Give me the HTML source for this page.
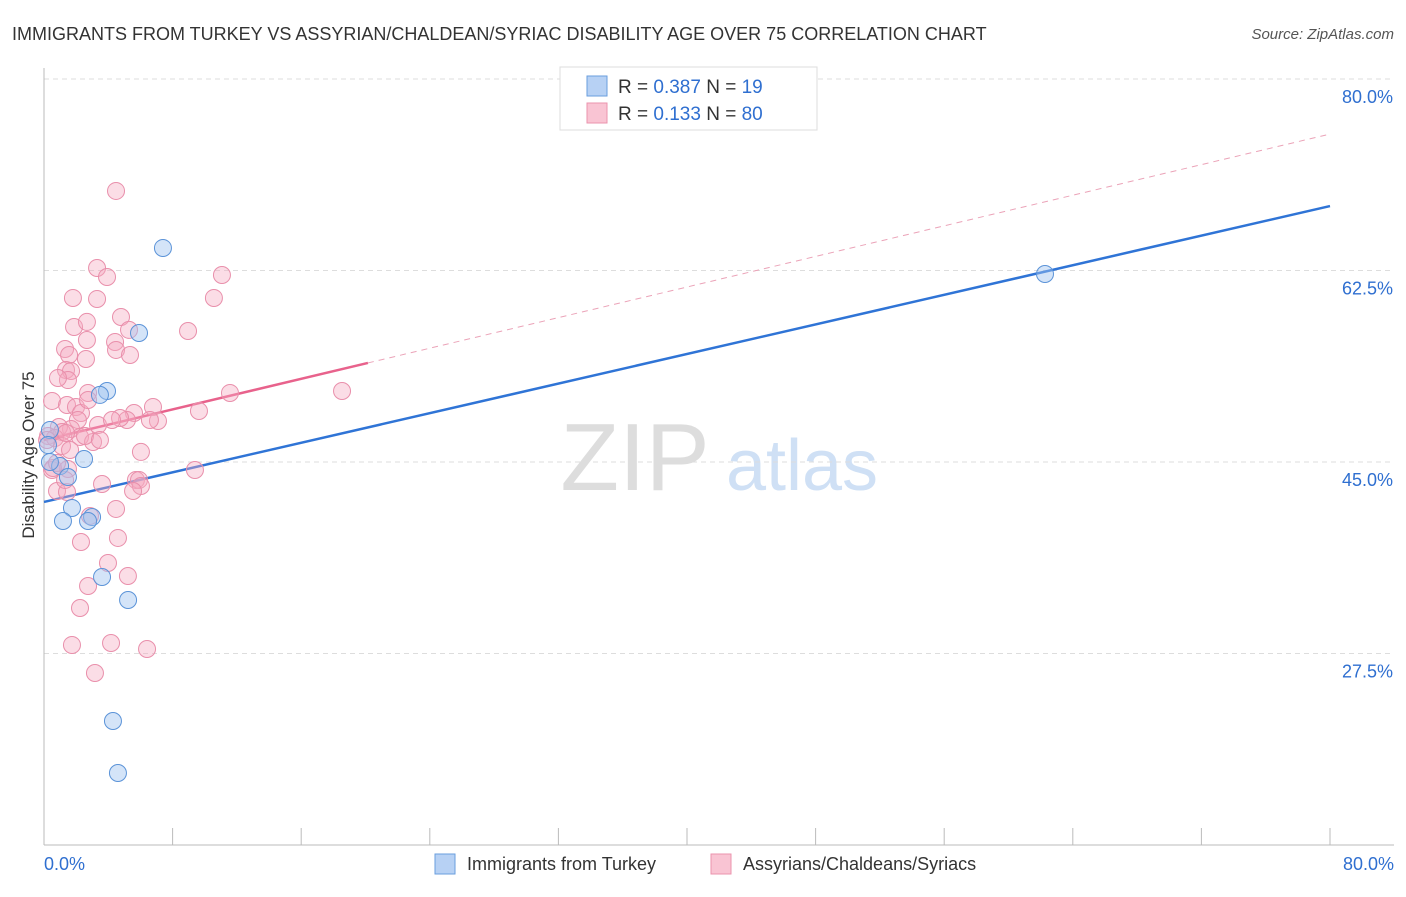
<!DOCTYPE html>
<html><head><meta charset="utf-8"><style>
body{margin:0;background:#fff;font-family:"Liberation Sans",sans-serif}
svg text{font-family:"Liberation Sans",sans-serif}
</style></head><body>
<svg id="chart" width="1406" height="892" xmlns="http://www.w3.org/2000/svg">
<text x="12" y="40" font-size="18" fill="#333">IMMIGRANTS FROM TURKEY VS ASSYRIAN/CHALDEAN/SYRIAC DISABILITY AGE OVER 75 CORRELATION CHART</text>
<text x="1394" y="39" font-size="15" fill="#555" font-style="italic" text-anchor="end">Source: ZipAtlas.com</text>
<g>
<text x="635" y="490" font-size="96" fill="#ddd" font-family="Liberation Serif" text-anchor="middle">ZIP</text>
<text x="802" y="490" font-size="72" fill="#cfe0f5" text-anchor="middle">atlas</text>
</g>
<g id="grid"></g>
<g id="axes"></g>
<g id="lines"></g>
<g id="points"></g>
<text transform="translate(34,455) rotate(-90)" font-size="17" fill="#333" text-anchor="middle">Disability Age Over 75</text>
<g>
<rect x="560" y="67" width="257" height="63" fill="#fff" stroke="#ddd"/>
<rect x="587" y="76" width="20" height="20" fill="#b7d1f4" stroke="#6a9ede"/>
<rect x="587" y="103" width="20" height="20" fill="#f9c4d3" stroke="#eb93ae"/>
<text x="618" y="93" font-size="19" fill="#333">R = <tspan fill="#2f6fd0">0.387</tspan>   N =  <tspan fill="#2f6fd0">19</tspan></text>
<text x="618" y="120" font-size="19" fill="#333">R =  <tspan fill="#2f6fd0">0.133</tspan>   N = <tspan fill="#2f6fd0">80</tspan></text>
</g>
<g>
<rect x="435" y="854" width="20" height="20" fill="#b7d1f4" stroke="#6a9ede"/>
<text x="467" y="870" font-size="18" fill="#333">Immigrants from Turkey</text>
<rect x="711" y="854" width="20" height="20" fill="#f9c4d3" stroke="#eb93ae"/>
<text x="743" y="870" font-size="18" fill="#333">Assyrians/Chaldeans/Syriacs</text>
</g>
</svg>
<script>
const blueX=[7.40,5.91,3.92,3.48,2.49,1.00,0.37,1.49,1.74,1.18,2.99,2.74,3.61,5.23,4.29,4.60,62.27,0.37,0.25];
const blueY=[64.56,56.79,51.49,51.13,45.27,44.63,45.0,43.63,40.8,39.61,39.97,39.61,34.49,32.39,21.33,16.58,62.18,47.92,46.55];
const pinkX=[4.48,3.30,3.92,11.07,1.80,3.30,10.57,4.79,1.87,2.67,8.96,5.29,2.67,4.42,1.31,4.48,1.56,5.35,2.61,1.37,1.68,1.49,0.87,18.54,11.57,2.74,0.50,1.43,6.78,1.99,5.60,2.30,9.64,2.11,5.16,7.09,3.36,1.68,0.93,1.12,2.24,3.05,0.25,6.03,0.68,0.50,9.39,1.49,5.72,5.91,6.03,3.61,5.54,0.81,1.43,4.48,2.86,4.60,2.30,3.98,5.22,2.74,2.24,1.74,4.17,6.41,3.17,0.56,0.81,0.19,1.12,2.74,4.73,6.59,2.55,1.31,4.23,1.37,3.48,1.62];
const pinkY=[69.77,62.73,61.91,62.09,59.99,59.90,59.99,58.25,57.34,57.80,56.97,57.07,56.15,55.97,55.33,55.24,54.78,54.78,54.41,53.41,53.32,52.49,52.68,51.49,51.31,51.31,50.58,50.21,50.03,50.03,49.48,49.48,49.66,48.84,48.84,48.75,48.38,48.02,48.20,47.74,47.29,46.83,47.38,45.92,47.19,44.27,44.27,44.36,43.36,43.36,42.81,42.99,42.35,42.35,42.26,40.71,40.07,38.06,37.69,35.77,34.58,33.67,31.66,28.28,28.46,27.91,25.72,44.45,44.91,47.01,46.46,50.67,49.02,48.84,47.38,43.36,48.84,47.65,47.01,46.10];
const yTicks=[80.0,62.5,45.0,27.5];
const xTickLabels=["0.0%","80.0%"];
const blueTrend=[41.35,68.39];
const pinkTrend=[47.01,74.97];
const pinkSolidEnd=20.15;

const NS="http://www.w3.org/2000/svg";
const X0=44,X1=1330,YT=79;
const xs=v=>X0+v*(X1-X0)/80;
const ys=v=>YT+(80-v)*191.5/17.5;
function mk(tag,attrs,parent){const e=document.createElementNS(NS,tag);for(const k in attrs)e.setAttribute(k,attrs[k]);document.getElementById(parent).appendChild(e);return e;}
yTicks.forEach(t=>{
 const l=mk('line',{x1:X0,x2:1394,y1:ys(t),y2:ys(t),stroke:'#ddd','stroke-dasharray':'5,4'},'grid');
 
 
 const tx=mk('text',{x:1393,y:ys(t)+24,'font-size':18,fill:'#2f6fd0','text-anchor':'end'},'grid');
 tx.textContent=t.toFixed(1)+'%';
 
 
});
const ax=mk('line',{x1:X0,x2:X0,y1:68,y2:845,stroke:'#bbb'},'axes');


const bx=mk('line',{x1:X0,x2:1394,y1:845,y2:845,stroke:'#bbb'},'axes');


for(let i=0;i<=10;i++){
 const t=mk('line',{x1:xs(i*8),x2:xs(i*8),y1:828,y2:845,stroke:'#bbb'},'axes');
 
 
}
[[0,'start',xTickLabels[0],X0],[80,'end',xTickLabels[1],1394]].forEach(([v,a,s,px])=>{
 const t=mk('text',{x:px,y:870,'font-size':18,fill:'#2f6fd0','text-anchor':a},'axes');
 t.textContent=s;
 
 
});
const bl=mk('line',{x1:xs(0),y1:ys(blueTrend[0]),x2:xs(80),y2:ys(blueTrend[1]),stroke:'#2f74d6','stroke-width':2.5},'lines');


const pe=pinkTrend[0]+(pinkTrend[1]-pinkTrend[0])*pinkSolidEnd/80;
const pd=mk('line',{x1:xs(pinkSolidEnd),y1:ys(pe),x2:xs(80),y2:ys(pinkTrend[1]),stroke:'#eba3b8','stroke-width':1,'stroke-dasharray':'6,5'},'lines');


const ps=mk('line',{x1:xs(0),y1:ys(pinkTrend[0]),x2:xs(pinkSolidEnd),y2:ys(pe),stroke:'#e8628c','stroke-width':2.5},'lines');


pinkX.forEach((x,i)=>{
 const c=mk('circle',{cx:xs(x),cy:ys(pinkY[i]),r:8.5,fill:'rgba(244,170,193,0.4)',stroke:'#e98fab','stroke-width':1},'points');
 
 
});
blueX.forEach((x,i)=>{
 const c=mk('circle',{cx:xs(x),cy:ys(blueY[i]),r:8.5,fill:'rgba(160,195,240,0.45)',stroke:'#5b93d8','stroke-width':1},'points');
 
 
});
</script>
</body></html>
